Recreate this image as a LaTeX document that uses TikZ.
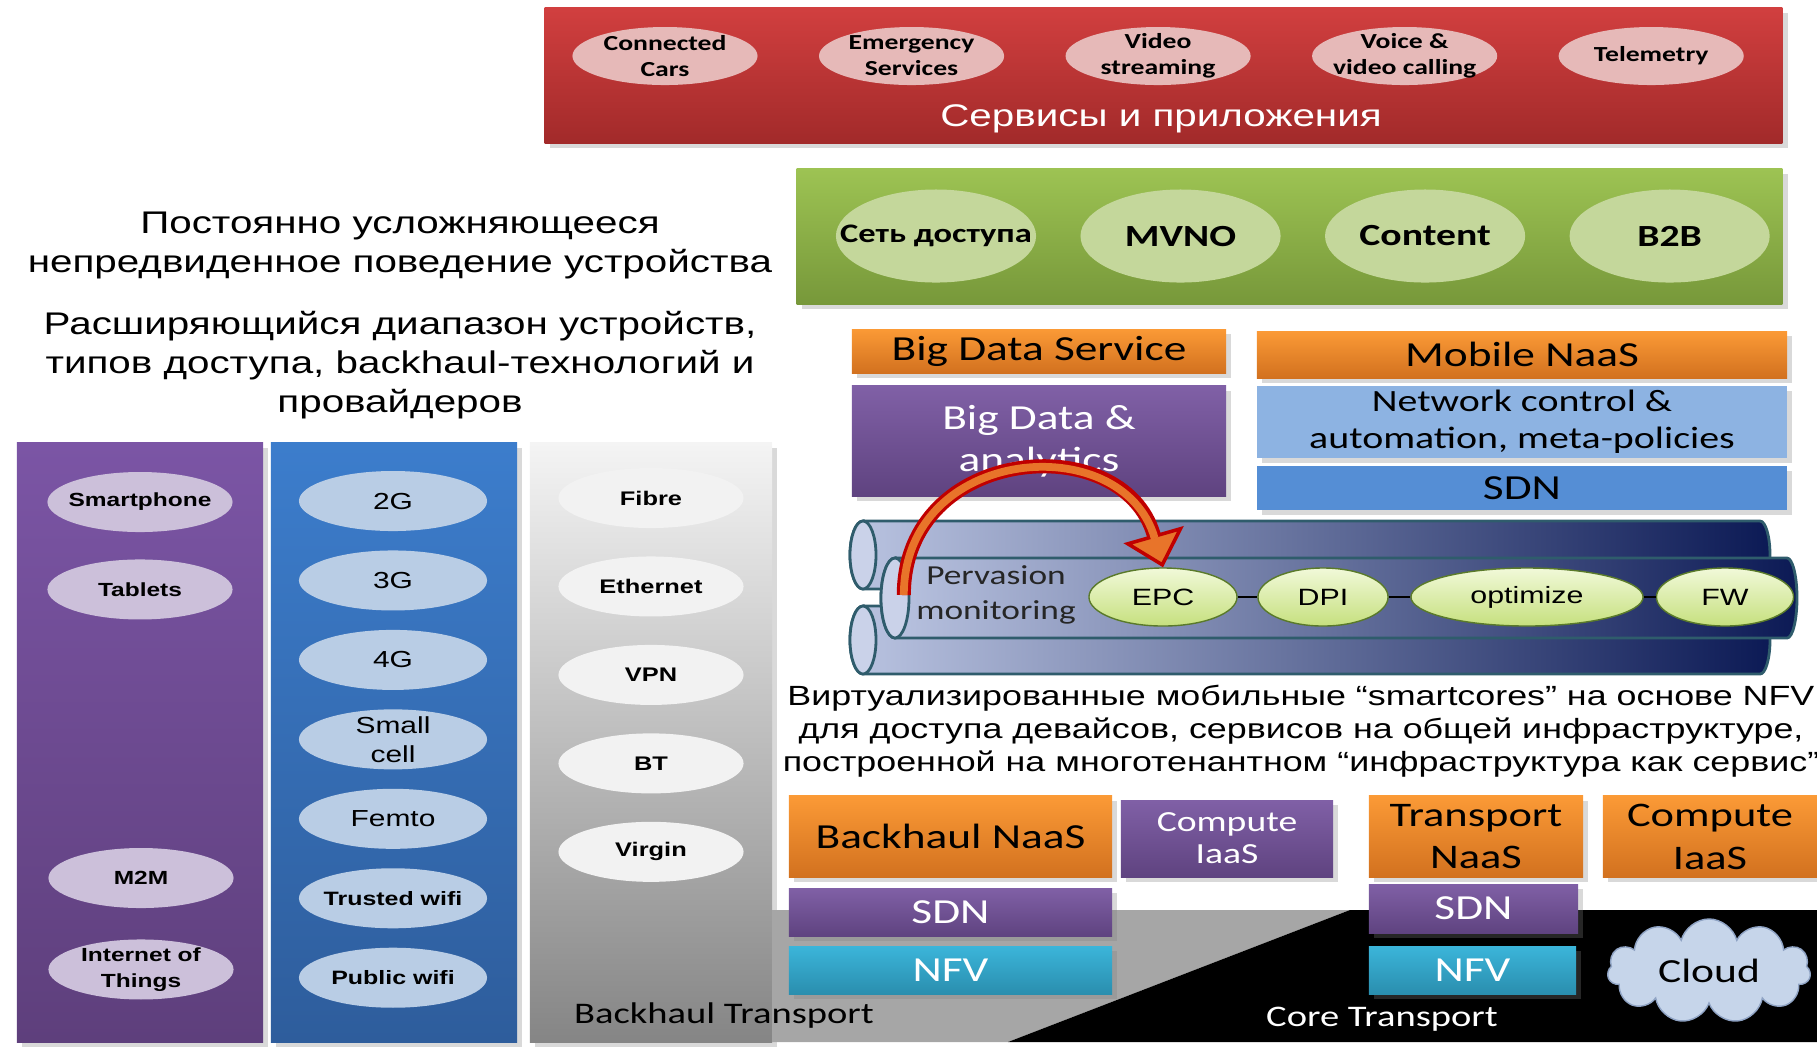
\documentclass[tikz,border=0pt]{standalone}
\usepackage{fontspec}
\setmainfont{Liberation Sans}[FakeStretch=1.29]
\newfontfamily\calib{Carlito}[FakeStretch=1.29]
\usepackage{tikz}
\usetikzlibrary{positioning,shapes.geometric,shapes.symbols,shadows,arrows.meta}
\definecolor{appRed}{HTML}{D13F3F}
\definecolor{appRedDark}{HTML}{A22A2A}
\definecolor{appPink}{HTML}{E6B9B8}
\definecolor{bizGreen}{HTML}{9DC353}
\definecolor{bizGreenDark}{HTML}{77983A}
\definecolor{bizPale}{HTML}{C4D79B}
\definecolor{naasOrange}{HTML}{FB9A36}
\definecolor{naasOrangeDark}{HTML}{D2711F}
\definecolor{iaasPurple}{HTML}{8060A6}
\definecolor{iaasPurpleDark}{HTML}{5F4380}
\definecolor{nfvCyan}{HTML}{3BB5DA}
\definecolor{nfvCyanDark}{HTML}{2A8EAE}
\definecolor{ctlBlue}{HTML}{8DB3E2}
\definecolor{sdnBlue}{HTML}{558ED5}
\definecolor{devTop}{HTML}{7B55A5}
\definecolor{devBottom}{HTML}{5E3F7C}
\definecolor{devPale}{HTML}{CCC0DA}
\definecolor{radioTop}{HTML}{3C7DCC}
\definecolor{radioBottom}{HTML}{2E5D9C}
\definecolor{radioPale}{HTML}{B9CDE5}
\definecolor{wireTop}{HTML}{F4F4F4}
\definecolor{wireBottom}{HTML}{858585}
\definecolor{wirePale}{HTML}{F2F2F2}
\definecolor{pipeLight}{HTML}{BAC4E1}
\definecolor{pipeDark}{HTML}{0C1A55}
\definecolor{pipeEdge}{HTML}{2F5C6C}
\definecolor{pipeFace}{HTML}{CAD2E9}
\definecolor{vnfTop}{HTML}{F1F9D9}
\definecolor{vnfBottom}{HTML}{C6E07E}
\definecolor{vnfEdge}{HTML}{5A7A2A}
\definecolor{arrowRed}{HTML}{C00000}
\definecolor{arrowOrange}{HTML}{E8742A}
\definecolor{cloudFill}{HTML}{C6D5EA}
\definecolor{cloudEdge}{HTML}{8FA3C4}
\definecolor{backhaulGray}{HTML}{A6A6A6}

\begin{document}
\begin{tikzpicture}[x=0.01cm, y=-0.01cm, every node/.style={align=center},
    box/.style={inner sep=0pt, drop shadow={opacity=0.3, shadow xshift=1.5pt, shadow yshift=-1.5pt}},
    orangebox/.style={box, top color=naasOrange, bottom color=naasOrangeDark, font=\calib\fontsize{10}{12}\selectfont},
    purplebox/.style={box, top color=iaasPurple, bottom color=iaasPurpleDark, text=white, font=\calib\fontsize{10}{11.9}\selectfont},
    cyanbox/.style={box, top color=nfvCyan, bottom color=nfvCyanDark, text=white, font=\calib\fontsize{10}{12}\selectfont},
    column/.style={box, minimum width=2.46cm, minimum height=5.99cm},
    oval/.style={ellipse, inner sep=0pt},
    svc/.style={oval, fill=appPink, minimum width=1.85cm, minimum height=0.58cm},
    biz/.style={oval, fill=bizPale, minimum width=2cm, minimum height=0.93cm},
    dev/.style={oval, fill=devPale, minimum width=1.85cm, minimum height=0.6cm},
    radio/.style={oval, fill=radioPale, minimum width=1.88cm, minimum height=0.6cm},
    wire/.style={oval, fill=wirePale, minimum width=1.85cm, minimum height=0.6cm},
    svctext/.style={font=\calib\bfseries\fontsize{6.1}{7.4}\selectfont},
    biztext/.style={font=\calib\bfseries\fontsize{8.75}{10}\selectfont},
    devtext/.style={font=\bfseries\fontsize{5.4}{7.3}\selectfont},
    radiotext/.style={font=\fontsize{6.6}{8.2}\selectfont},
    wifitext/.style={font=\bfseries\fontsize{5.5}{7}\selectfont},
    wiretext/.style={font=\bfseries\fontsize{5.6}{7}\selectfont},
    vnf/.style={oval, draw=vnfEdge, top color=vnfTop, bottom color=vnfBottom, minimum height=0.58cm, font=\fontsize{6.7}{8}\selectfont},
    pipe/.style={draw=pipeEdge, line width=0.8pt, left color=pipeLight, right color=pipeDark},
    pipeend/.style={draw=pipeEdge, line width=0.8pt, fill=pipeFace},
    bigtext/.style={font=\fontsize{8.9}{11.1}\selectfont}]
    \useasboundingbox (0,0) rectangle (1817,1056);

    % services and applications
    \node[box, top color=appRed, bottom color=appRedDark, minimum width=12.37cm, minimum height=1.35cm] (apps) at (1163.5,75.5) {};
    \node[text=white, font=\fontsize{8.9}{10}\selectfont] (appstitle) at (1161,119) {Сервисы и приложения};
    \node[svc, label={[svctext]center:{Connected\\Cars}}] (cars) at (665,56) {};
    \node[svc, right=0.6cm of cars, label={[svctext]center:{Emergency\\Services}}] (emerg) {};
    \node[svc, right=0.6cm of emerg, label={[svctext]center:{Video\\streaming}}] (video) {};
    \node[svc, right=0.6cm of video, label={[svctext]center:{Voice \&\\video calling}}] (voice) {};
    \node[svc, right=0.6cm of voice, label={[svctext]center:{Telemetry}}] (telem) {};

    % business models
    \node[box, top color=bizGreen, bottom color=bizGreenDark, minimum width=9.85cm, minimum height=1.35cm] (market) at (1289.5,236.5) {};
    \node[biz, label={[biztext, font=\calib\bfseries\fontsize{7.6}{9}\selectfont]center:{Сеть доступа}}] (access) at (936,236) {};
    \node[biz, right=0.43cm of access, label={[biztext]center:{MVNO}}] (mvno) {};
    \node[biz, right=0.43cm of mvno, label={[biztext]center:{Content}}] (content) {};
    \node[biz, right=0.43cm of content, label={[biztext]center:{B2B}}] (btob) {};

    \node[bigtext] (trend) at (400,245) {Постоянно усложняющееся\\непредвиденное поведение устройства};
    \node[bigtext] (range) at (400,365) {Расширяющийся диапазон устройств,\\типов доступа, backhaul-технологий и\\провайдеров};

    % devices, radio access, wired backhaul
    \node[column, top color=devTop, bottom color=devBottom] (devices) at (140,742.5) {};
    \node[column, top color=radioTop, bottom color=radioBottom] (radios) at (394,742.5) {};
    \node[column, top color=wireTop, bottom color=wireBottom, minimum width=2.42cm] (wired) at (651,742.5) {};

    \fill[backhaulGray] (772,910) -- (1350,910) -- (1008,1042) -- (772,1042) -- cycle;
    \fill[black] (1350,910) -- (1817,910) -- (1817,1042) -- (1008,1042) -- cycle;

    \node[dev, label={[devtext]center:{Smartphone}}] (smart) at (140,502) {};
    \node[dev, below=0.26cm of smart, label={[devtext]center:{Tablets}}] (tabl) {};
    \node[dev, label={[devtext]center:{M2M}}] (mtom) at (141,878) {};
    \node[dev, below=0.3cm of mtom, label={[devtext]center:{Internet of\\Things}}] (iot) {};

    \node[radio, label={[radiotext]center:{2G}}] (gtwo) at (393,501) {};
    \node[radio, below=0.18cm of gtwo, label={[radiotext]center:{3G}}] (gthree) {};
    \node[radio, below=0.18cm of gthree, label={[radiotext]center:{4G}}] (gfour) {};
    \node[radio, below=0.18cm of gfour, label={[radiotext]center:{Small\\cell}}] (small) {};
    \node[radio, below=0.18cm of small, label={[radiotext]center:{Femto}}] (femto) {};
    \node[radio, below=0.18cm of femto, label={[wifitext]center:{Trusted wifi}}] (trusted) {};
    \node[radio, below=0.18cm of trusted, label={[wifitext]center:{Public wifi}}] (public) {};

    \node[wire, label={[wiretext]center:{Fibre}}] (fibre) at (651,498) {};
    \node[wire, below=0.27cm of fibre, label={[wiretext]center:{Ethernet}}] (ether) {};
    \node[wire, below=0.27cm of ether, label={[wiretext]center:{VPN}}] (vpn) {};
    \node[wire, below=0.27cm of vpn, label={[wiretext]center:{BT}}] (bt) {};
    \node[wire, below=0.27cm of bt, label={[wiretext]center:{Virgin}}] (virgin) {};

    % control and analytics
    \node[orangebox, minimum width=3.74cm, minimum height=0.44cm] (bds) at (1039,351) {Big Data Service};
    \node[orangebox, minimum width=5.3cm, minimum height=0.47cm] (mnaas) at (1522,354.5) {Mobile NaaS};
    \node[purplebox, minimum width=3.74cm, minimum height=1.1cm] (bda) at (1039,441) {Big Data \&\\analytics};
    \node[box, fill=ctlBlue, minimum width=5.3cm, minimum height=0.72cm, font=\calib\fontsize{8.8}{10.5}\selectfont] (netctl) at (1522,422) {Network control \&\\automation, meta-policies};
    \node[box, fill=sdnBlue, minimum width=5.3cm, minimum height=0.44cm, font=\calib\fontsize{10}{12}\selectfont] (sdntop) at (1522,488) {SDN};

    % smartcore pipes
    \path[pipe] (863,521) -- (1760,521) arc[start angle=90, end angle=-90, x radius=0.1cm, y radius=0.34cm]
        -- (863,589) arc[start angle=270, end angle=90, x radius=0.13cm, y radius=0.34cm] -- cycle;
    \path[pipe] (863,606) -- (1760,606) arc[start angle=90, end angle=-90, x radius=0.1cm, y radius=0.34cm]
        -- (863,674) arc[start angle=270, end angle=90, x radius=0.13cm, y radius=0.34cm] -- cycle;
    \draw[pipeend] (863,555) ellipse [x radius=0.13cm, y radius=0.34cm];
    \draw[pipeend] (863,640) ellipse [x radius=0.13cm, y radius=0.34cm];
    \path[pipe] (895,558) -- (1787,558) arc[start angle=90, end angle=-90, x radius=0.1cm, y radius=0.4cm]
        -- (895,638) arc[start angle=270, end angle=90, x radius=0.14cm, y radius=0.4cm] -- cycle;
    \draw[pipeend] (895,598) ellipse [x radius=0.14cm, y radius=0.4cm];

    \node[font=\calib\fontsize{7.8}{10}\selectfont, text=black!85] (perv) at (996,595) {Pervasion\\monitoring};
    \node[vnf, minimum width=1.48cm] (epc) at (1163,597) {EPC};
    \node[vnf, minimum width=1.3cm] (dpi) at (1323,597) {DPI};
    \node[vnf, minimum width=2.32cm] (opt) at (1527,597) {optimize};
    \node[vnf, minimum width=1.37cm] (fw) at (1725,597) {FW};
    \draw (epc) -- (dpi) (dpi) -- (opt) (opt) -- (fw);

    \draw[arrowRed, line width=4pt, -{Triangle[length=0.34cm, width=0.62cm, fill=arrowOrange, line width=1pt]}]
        (perv.west) .. controls +(0,-150) and +(-40,-140) .. (epc.north);
    \draw[arrowOrange, line width=2.2pt, shorten >=0.3cm]
        (perv.west) .. controls +(0,-150) and +(-40,-140) .. (epc.north);

    \node[font=\fontsize{7.9}{9.4}\selectfont] (nfvtext) at (1301,731) {Виртуализированные мобильные “smartcores” на основе NFV\\для доступа девайсов, сервисов на общей инфраструктуре,\\построенной на многотенантном “инфраструктура как сервис”};

    % transport
    \node[orangebox, minimum width=3.23cm, minimum height=0.81cm] (bnaas) at (950.5,836.5) {Backhaul NaaS};
    \node[purplebox, minimum width=2.12cm, minimum height=0.77cm, font=\calib\fontsize{8.3}{9.1}\selectfont] (ciaasl) at (1227,838.5) {Compute\\IaaS};
    \node[orangebox, minimum width=2.14cm, minimum height=0.81cm, font=\calib\fontsize{9.8}{12.2}\selectfont] (tnaas) at (1476,836.5) {Transport\\NaaS};
    \node[orangebox, minimum width=2.14cm, minimum height=0.81cm, font=\calib\fontsize{9.8}{12.2}\selectfont] (ciaasr) at (1710,836.5) {Compute\\IaaS};
    \node[purplebox, minimum width=3.23cm, minimum height=0.48cm] (sdnl) at (950.5,912) {SDN};
    \node[cyanbox, minimum width=3.23cm, minimum height=0.48cm] (nfvl) at (950.5,970) {NFV};
    \node[purplebox, minimum width=2.09cm, minimum height=0.49cm] (sdnr) at (1473.5,908.5) {SDN};
    \node[cyanbox, minimum width=2.07cm, minimum height=0.48cm] (nfvr) at (1472.5,970) {NFV};
    \node[cloud, cloud puffs=11, aspect=1.9, fill=cloudFill, draw=cloudEdge, minimum width=2.03cm, minimum height=1.04cm, inner sep=0pt, font=\calib\fontsize{9.6}{11}\selectfont] (cloud) at (1709,971) {Cloud};

    \node[font=\calib\fontsize{8.5}{10}\selectfont] (bhtrans) at (724,1016) {Backhaul Transport};
    \node[text=white, font=\calib\fontsize{8.5}{10}\selectfont] (coretrans) at (1382,1019) {Core Transport};
\end{tikzpicture}
\end{document}
